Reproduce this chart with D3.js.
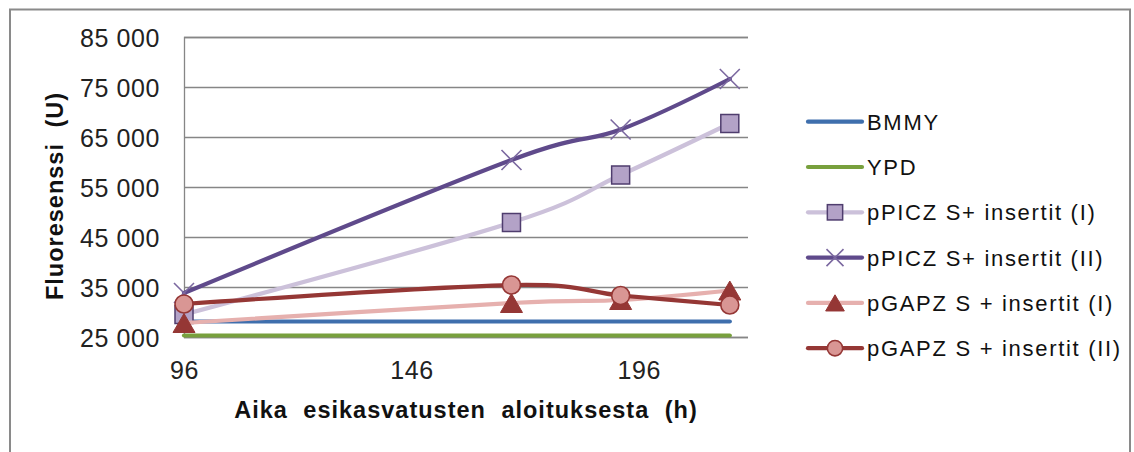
<!DOCTYPE html>
<html>
<head>
<meta charset="utf-8">
<script src="https://cdn.jsdelivr.net/npm/d3@7"></script>
<style>
  html, body { margin: 0; padding: 0; background: #fff; }
  svg { display: block; font-family: "Liberation Sans", Arial, sans-serif; }
</style>
</head>
<body>
<svg id="chart" width="1134" height="452"></svg>
<script>
// Sampling times (h) and fluorescence readings (U)
const hours = [96, 168, 192, 216];
const bmmy = [28100, 28100, 28100, 28100];
const ypd = [25300, 25300, 25300, 25300];
const ppiczI = [29500, 47900, 57400, 67700];
const ppiczII = [33800, 60400, 66500, 76600];
const pgapzI = [27800, 31800, 32400, 34300];
const pgapzII = [31600, 35400, 33300, 31400];

const xTicks = [96, 146, 196];
const yTicks = [25000, 35000, 45000, 55000, 65000, 75000, 85000];

const seriesNames = [
  "BMMY", "YPD", "pPICZ S+ insertit (I)", "pPICZ S+ insertit (II)",
  "pGAPZ S + insertit (I)", "pGAPZ S + insertit (II)"
];
const seriesValues = [bmmy, ypd, ppiczI, ppiczII, pgapzI, pgapzII];

const styles = [
  { line: "#3F6FAD", marker: null },
  { line: "#78A03D", marker: null },
  { line: "#CCC1DA", marker: "square" },
  { line: "#5F4A8B", marker: "cross" },
  { line: "#E6B0AE", marker: "triangle" },
  { line: "#953735", marker: "circle" }
];

const svg = d3.select("#chart");
const x = d3.scaleLinear().domain([96, 220]).range([184, 748]);
const y = d3.scaleLinear().domain([25000, 85000]).range([337, 37]);

const fi = d3.formatLocale({ decimal: ",", thousands: " ", grouping: [3], currency: ["", " €"] });
const fmt = fi.format(",");

// outer chart frame
svg.append("rect")
  .attr("x", 10).attr("y", 9.5).attr("width", 1120).attr("height", 470)
  .attr("fill", "none").attr("stroke", "#8a8a8a").attr("stroke-width", 2);

// horizontal gridlines and value axis
const yAxis = d3.axisLeft(y).tickValues(yTicks).tickSize(-(748 - 184)).tickFormat(fmt).tickPadding(24);
const gy = svg.append("g").attr("transform", "translate(184,0)").call(yAxis);
gy.select(".domain").attr("stroke", "#868686").attr("stroke-width", 1.3);
gy.selectAll(".tick line").attr("stroke", "#868686").attr("stroke-width", 1.3);
gy.selectAll(".tick text")
  .attr("font-size", 25).attr("fill", "#222").attr("letter-spacing", 0.6)
  .attr("font-family", "Liberation Sans, Arial, sans-serif").attr("dy", "0.37em");

// time axis labels
const xAxis = d3.axisBottom(x).tickValues(xTicks).tickSize(0).tickPadding(0).tickFormat(d3.format("d"));
const gx = svg.append("g").attr("transform", "translate(0,337)").call(xAxis);
gx.select(".domain").remove();
gx.selectAll(".tick text")
  .attr("font-size", 25).attr("fill", "#222").attr("letter-spacing", 0.6)
  .attr("font-family", "Liberation Sans, Arial, sans-serif").attr("dy", null).attr("y", 42);

// axis titles
svg.append("text")
  .attr("x", 466).attr("y", 418).attr("text-anchor", "middle")
  .attr("font-size", 23.5).attr("font-weight", "bold").attr("fill", "#111")
  .attr("letter-spacing", 1).attr("word-spacing", 8)
  .text("Aika esikasvatusten aloituksesta (h)");

svg.append("text")
  .attr("transform", "translate(63,196) rotate(-90)").attr("text-anchor", "middle")
  .attr("font-size", 23.5).attr("font-weight", "bold").attr("fill", "#111")
  .attr("letter-spacing", 1).attr("word-spacing", 8)
  .text("Fluoresenssi (U)");

const line = d3.line().curve(d3.curveCatmullRom.alpha(0));

function drawMarker(g, kind, cx, cy, s) {
  if (kind === "square") {
    g.append("rect").attr("x", cx - 9 * s).attr("y", cy - 9 * s)
      .attr("width", 18 * s).attr("height", 18 * s)
      .attr("fill", "#B3A2C7").attr("stroke", "#4F3D6E").attr("stroke-width", 1.5);
  } else if (kind === "cross") {
    const h = 10 * s;
    g.append("path")
      .attr("d", `M${cx - h},${cy - h}L${cx + h},${cy + h}M${cx - h},${cy + h}L${cx + h},${cy - h}`)
      .attr("stroke", "#7B68A0").attr("stroke-width", 1.6).attr("fill", "none");
  } else if (kind === "triangle") {
    const w = 11 * s, h = 9.5 * s;
    g.append("path")
      .attr("d", `M${cx},${cy - h}L${cx + w},${cy + h}L${cx - w},${cy + h}Z`)
      .attr("fill", "#953735").attr("stroke", "#953735").attr("stroke-width", 1);
  } else if (kind === "circle") {
    g.append("circle").attr("cx", cx).attr("cy", cy).attr("r", 9 * s)
      .attr("fill", "#D99694").attr("stroke", "#953735").attr("stroke-width", 1.6);
  }
}

// series lines with their markers
seriesValues.forEach((vals, i) => {
  const g = svg.append("g");
  const pts = hours.map((h, k) => [x(h), y(vals[k])]);
  g.append("path").attr("d", line(pts))
    .attr("fill", "none").attr("stroke", styles[i].line)
    .attr("stroke-width", 4.2).attr("stroke-linecap", "round").attr("stroke-linejoin", "round");
  if (styles[i].marker) {
    pts.forEach(p => drawMarker(g, styles[i].marker, p[0], p[1], 1));
  }
});

// legend
const legend = svg.append("g");
seriesNames.forEach((name, i) => {
  const cy = 121.7 + i * 45.3;
  legend.append("line").attr("x1", 808).attr("x2", 862).attr("y1", cy).attr("y2", cy)
    .attr("stroke", styles[i].line).attr("stroke-width", 4.2).attr("stroke-linecap", "round");
  if (styles[i].marker) drawMarker(legend, styles[i].marker, 835, cy, 0.85);
  legend.append("text").attr("x", 867).attr("y", cy + 8)
    .attr("font-size", 22).attr("fill", "#111").attr("letter-spacing", 1.7)
    .text(name);
});
</script>
</body>
</html>
